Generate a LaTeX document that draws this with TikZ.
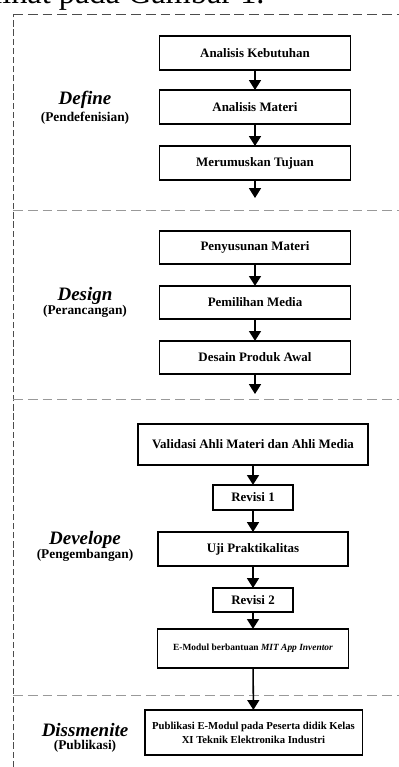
\documentclass[tikz,border=0pt]{standalone}
\usepackage{fontspec}
\setmainfont{Liberation Serif}
\usetikzlibrary{arrows.meta}

\begin{document}
\begin{tikzpicture}[x=0.025cm, y=-0.025cm,
    box/.style={draw, line width=0.9pt, inner sep=2pt, outer sep=0pt, align=center,
      font=\fontsize{9.2}{10}\selectfont\bfseries},
    phase/.style={font=\fontsize{13.5}{14}\selectfont\bfseries\itshape},
    phasesub/.style={font=\fontsize{9.5}{10}\selectfont\bfseries},
    flow/.style={line width=1.1pt, -{Triangle[width=8.5pt,length=7pt]}},
    frame/.style={dashed, line width=0.7pt}]
      %\draw [help lines] (0,0) grid (399,767);
      \useasboundingbox (0,0) rectangle (399,767);
      \begin{scope}
        \clip (0,0) rectangle (399,767);
        \node[anchor=base west, inner sep=0pt, font=\fontsize{23}{24}\selectfont] (caption) at (-7,4) {lihat pada Gambar 1.};
      \end{scope}

      % frame and phase dividers
      \draw[frame, black!70, dash pattern=on 4.5pt off 2pt] (13,767) -- (13,14);
      \draw[frame, black!70, dash pattern=on 7pt off 3.5pt] (13,14) -- (399,14);
      \draw[frame, black!40, dash pattern=on 7pt off 3.5pt] (13,210) -- (399,210);
      \draw[frame, black!40, dash pattern=on 7pt off 3.5pt] (13,399) -- (399,399);
      \draw[frame, black!40, dash pattern=on 7pt off 3.5pt] (13,695) -- (399,695);

      % Define
      \node[phase] (define) at (85,100) {Define};
      \node[phasesub] (pendefenisian) at (85,118) {(Pendefenisian)};
      \node[box, minimum width=4.78cm, minimum height=0.85cm] (kebutuhan) at (255,53) {Analisis Kebutuhan};
      \node[box, minimum width=4.78cm, minimum height=0.85cm] (materi) at (255,107) {Analisis Materi};
      \node[box, minimum width=4.78cm, minimum height=0.85cm] (tujuan) at (255,163) {Merumuskan Tujuan};
      \coordinate (defineend) at (255,198);

      % Design
      \node[phase] (design) at (85,296) {Design};
      \node[phasesub] (perancangan) at (85,311) {(Perancangan)};
      \node[box, minimum width=4.78cm, minimum height=0.83cm] (penyusunan) at (255,247.5) {Penyusunan Materi};
      \node[box, minimum width=4.78cm, minimum height=0.83cm] (media) at (255,302.5) {Pemilihan Media};
      \node[box, minimum width=4.78cm, minimum height=0.83cm] (produk) at (255,357.5) {Desain Produk Awal};
      \coordinate (designend) at (255,394);

      % Develope
      \node[phase] (develope) at (85,540) {Develope};
      \node[phasesub] (pengembangan) at (85,555) {(Pengembangan)};
      \node[box, minimum width=5.75cm, minimum height=1.03cm] (validasi) at (253,444.5) {Validasi Ahli Materi dan Ahli Media};
      \node[box, minimum width=2cm, minimum height=0.63cm] (revisi1) at (253,497.5) {Revisi 1};
      \node[box, minimum width=4.75cm, minimum height=0.85cm] (uji) at (253,549) {Uji Praktikalitas};
      \node[box, minimum width=2cm, minimum height=0.6cm] (revisi2) at (253,600) {Revisi 2};
      \node[box, minimum width=4.78cm, minimum height=0.98cm, font=\fontsize{6.7}{8}\selectfont\bfseries] (emodul) at (253,648.5) {E-Modul berbantuan \textit{MIT App Inventor}};

      % Dissmenite
      \node[phase] (dissmenite) at (85,730) {Dissmenite};
      \node[phasesub] (publikasi) at (85,746) {(Publikasi)};
      \node[box, minimum width=5.43cm, minimum height=1.13cm, font=\fontsize{7.6}{10}\selectfont\bfseries] (publikasibox) at (253.5,732.5) {Publikasi E-Modul pada Peserta didik Kelas\\XI Teknik Elektronika Industri};

      \draw[flow] (kebutuhan) -- (materi);
      \draw[flow] (materi) -- (tujuan);
      \draw[flow] (tujuan) -- (defineend);
      \draw[flow] (penyusunan) -- (media);
      \draw[flow] (media) -- (produk);
      \draw[flow] (produk) -- (designend);
      \draw[flow] (validasi) -- (revisi1);
      \draw[flow] (revisi1) -- (uji);
      \draw[flow] (uji) -- (revisi2);
      \draw[flow] (revisi2) -- (emodul);
      \draw[flow] (emodul) -- (publikasibox);
    \end{tikzpicture}
\end{document}
